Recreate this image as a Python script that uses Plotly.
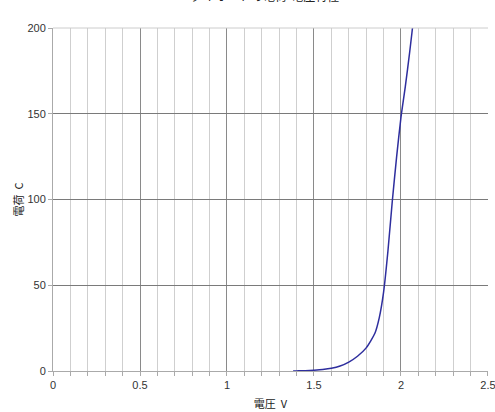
import plotly.graph_objects as go

voltage = [1.38, 1.40, 1.45, 1.50, 1.55, 1.60, 1.65, 1.70, 1.75, 1.80, 1.85, 1.875,
           1.90, 1.925, 1.95, 1.975, 2.00, 2.025, 2.05, 2.075, 2.10]
charge = [0, 0.05, 0.2, 0.5, 0.9, 1.6, 2.9, 5.2, 8.6, 13.5, 22, 31,
          46, 70, 99, 125, 148, 166, 186, 208, 232]

x_ticks = [0, 0.5, 1, 1.5, 2, 2.5]
x_tick_labels = ["0", "0.5", "1", "1.5", "2", "2.5"]
y_ticks = [0, 50, 100, 150, 200]

title_text = "ダイオードの電荷-電圧特性"
x_title = "電圧  V"
y_title = "電荷  C"

font_family = "Liberation Sans, Arial, Noto Sans CJK JP, sans-serif"

fig = go.Figure()
fig.add_trace(go.Scatter(
    x=voltage, y=charge, mode="lines",
    line=dict(color="#2e2e9e", width=1.5, shape="spline", smoothing=0.6),
    hoverinfo="skip", showlegend=False, cliponaxis=True,
))

fig.update_layout(
    width=495, height=412,
    margin=dict(l=53, r=7, t=28, b=41, autoexpand=False),
    plot_bgcolor="white", paper_bgcolor="white",
    font=dict(family=font_family, size=11, color="#333333"),
    xaxis=dict(
        range=[0, 2.5001], tickvals=x_ticks, ticktext=x_tick_labels,
        automargin=False, ticklabeloverflow="allow",
        showgrid=True, gridcolor="#8a8a8a", gridwidth=1,
        minor=dict(dtick=0.1, showgrid=True, gridcolor="#cfcfcf", gridwidth=1,
                   ticks="outside", ticklen=4, tickcolor="#aaaaaa"),
        ticks="outside", ticklen=4, tickcolor="#aaaaaa",
        showline=True, linecolor="#aaaaaa", linewidth=1,
        zeroline=False, fixedrange=True,
        title=dict(text=x_title, font=dict(size=11, family="Noto Sans CJK JP", color="#222222"), standoff=10),
    ),
    yaxis=dict(
        range=[0, 200], tickvals=y_ticks,
        automargin=False,
        showgrid=True, gridcolor="#7a7a7a", gridwidth=1,
        ticks="outside", ticklen=4, tickcolor="#aaaaaa",
        showline=True, linecolor="#aaaaaa", linewidth=1,
        zeroline=False, fixedrange=True,
        title=dict(text=y_title, font=dict(size=11, family="Noto Sans CJK JP", color="#222222"), standoff=1),
    ),
    annotations=[dict(
        text=title_text, xref="paper", yref="paper",
        x=0.487, y=1.0 + 32 / 343, xanchor="center", yanchor="middle",
        showarrow=False, font=dict(size=12, family="Noto Sans CJK JP", color="#222222"),
    )],
)

fig.add_shape(type="line", xref="paper", yref="paper", x0=0, x1=1, y0=1, y1=1,
              line=dict(color="#cccccc", width=1))

fig.write_html(
    "out.html",
    config={"displayModeBar": False, "staticPlot": True},
    post_script="document.body.style.margin='0';document.body.style.overflow='hidden';",
)
